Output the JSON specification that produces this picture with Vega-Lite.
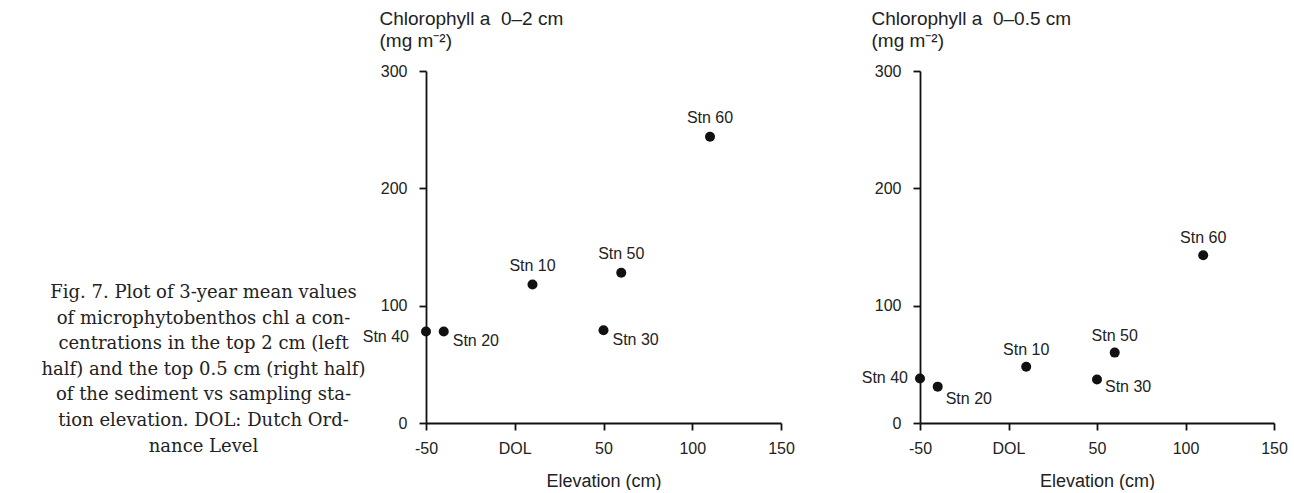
{
  "$schema": "https://vega.github.io/schema/vega-lite/v6.json",
  "padding": {"left": 41, "top": 9, "right": 0, "bottom": 0},
  "background": "white",
  "datasets": {
    "stations": [
      {"depth": "0-2", "station": "Stn 40", "elevation": -50, "chl": 78},
      {"depth": "0-2", "station": "Stn 20", "elevation": -40, "chl": 78},
      {"depth": "0-2", "station": "Stn 10", "elevation": 10, "chl": 118},
      {"depth": "0-2", "station": "Stn 30", "elevation": 50, "chl": 79},
      {"depth": "0-2", "station": "Stn 50", "elevation": 60, "chl": 128},
      {"depth": "0-2", "station": "Stn 60", "elevation": 110, "chl": 244},
      {"depth": "0-0.5", "station": "Stn 40", "elevation": -50, "chl": 38},
      {"depth": "0-0.5", "station": "Stn 20", "elevation": -40, "chl": 31},
      {"depth": "0-0.5", "station": "Stn 10", "elevation": 10, "chl": 48},
      {"depth": "0-0.5", "station": "Stn 30", "elevation": 50, "chl": 37},
      {"depth": "0-0.5", "station": "Stn 50", "elevation": 60, "chl": 60},
      {"depth": "0-0.5", "station": "Stn 60", "elevation": 110, "chl": 143}
    ],
    "caption": [
      {"line": 1, "text": "Fig. 7. Plot of 3-year mean values"},
      {"line": 2, "text": "of microphytobenthos chl a con-"},
      {"line": 3, "text": "centrations in the top 2 cm (left"},
      {"line": 4, "text": "half) and the top 0.5 cm (right half)"},
      {"line": 5, "text": "of the sediment vs sampling sta-"},
      {"line": 6, "text": "tion elevation. DOL: Dutch Ord-"},
      {"line": 7, "text": "nance Level"}
    ]
  },
  "config": {
    "view": {"stroke": null},
    "font": "Liberation Sans",
    "axis": {
      "grid": false,
      "domainColor": "#111",
      "domainWidth": 1.8,
      "tickColor": "#111",
      "tickWidth": 1.8,
      "tickSize": 7,
      "labelColor": "#222",
      "labelFont": "Liberation Sans",
      "labelFontSize": 16,
      "titleFont": "Liberation Sans",
      "titleFontSize": 18,
      "titleFontWeight": "normal",
      "titleColor": "#222"
    },
    "text": {"font": "Liberation Sans", "fontSize": 16, "color": "#222", "baseline": "middle"}
  },
  "spacing": 139,
  "bounds": "flush",
  "hconcat": [
    {
      "width": 167,
      "height": 352,
      "data": {"name": "caption"},
      "mark": {"type": "text", "font": "DejaVu Serif", "fontSize": 18, "color": "#222", "align": "center", "baseline": "middle"},
      "encoding": {
        "y": {"field": "line", "type": "quantitative", "scale": {"domain": [-7.67, 6.08], "reverse": true, "zero": false, "nice": false}, "axis": null},
        "text": {"field": "text"}
      }
    },
    {
      "width": 355,
      "height": 352,
      "data": {"name": "stations"},
      "transform": [{"filter": "datum.depth == '0-2'"}],
      "encoding": {
        "x": {
          "field": "elevation", "type": "quantitative",
          "scale": {"domain": [-50, 150], "nice": false, "zero": false},
          "axis": {"values": [-50, 0, 50, 100, 150], "labelExpr": "datum.value == 0 ? 'DOL' : (datum.value < 0 ? '-' + abs(datum.value) : '' + datum.value)", "labelFlush": false, "labelPadding": 10, "title": "Elevation (cm)", "titlePadding": 16}
        },
        "y": {
          "field": "chl", "type": "quantitative",
          "scale": {"domain": [0, 300], "nice": false},
          "axis": {"values": [0, 100, 200, 300], "labelPadding": 12, "title": ["Chlorophyll a\u00a0 0\u20132 cm", "(mg m\u207b\u00b2)"], "titleAngle": 0, "titleAlign": "left", "titleBaseline": "alphabetic", "titleFontSize": 19, "titleX": -47, "titleY": -47, "titleLineHeight": 22}
        }
      },
      "layer": [
        {"mark": {"type": "point", "filled": true, "shape": "circle", "size": 100, "color": "#111", "opacity": 1}},
        {"transform": [{"filter": "indexof(['Stn 10','Stn 50','Stn 60'], datum.station) >= 0"}], "mark": {"type": "text", "align": "center", "dy": -19}, "encoding": {"text": {"field": "station"}}},
        {"transform": [{"filter": "datum.station == 'Stn 40'"}], "mark": {"type": "text", "align": "right", "dx": -17, "dy": 6}, "encoding": {"text": {"field": "station"}}},
        {"transform": [{"filter": "datum.station == 'Stn 20' || datum.station == 'Stn 30'"}], "mark": {"type": "text", "align": "left", "dx": 9, "dy": 10}, "encoding": {"text": {"field": "station"}}}
      ]
    },
    {
      "width": 354,
      "height": 352,
      "data": {"name": "stations"},
      "transform": [{"filter": "datum.depth == '0-0.5'"}],
      "encoding": {
        "x": {
          "field": "elevation", "type": "quantitative",
          "scale": {"domain": [-50, 150], "nice": false, "zero": false},
          "axis": {"values": [-50, 0, 50, 100, 150], "labelExpr": "datum.value == 0 ? 'DOL' : (datum.value < 0 ? '-' + abs(datum.value) : '' + datum.value)", "labelFlush": false, "labelPadding": 10, "title": "Elevation (cm)", "titlePadding": 16}
        },
        "y": {
          "field": "chl", "type": "quantitative",
          "scale": {"domain": [0, 300], "nice": false},
          "axis": {"values": [0, 100, 200, 300], "labelPadding": 12, "title": ["Chlorophyll a\u00a0 0\u20130.5 cm", "(mg m\u207b\u00b2)"], "titleAngle": 0, "titleAlign": "left", "titleBaseline": "alphabetic", "titleFontSize": 19, "titleX": -49, "titleY": -47, "titleLineHeight": 22}
        }
      },
      "layer": [
        {"mark": {"type": "point", "filled": true, "shape": "circle", "size": 100, "color": "#111", "opacity": 1}},
        {"transform": [{"filter": "indexof(['Stn 10','Stn 50','Stn 60'], datum.station) >= 0"}], "mark": {"type": "text", "align": "center", "dy": -17}, "encoding": {"text": {"field": "station"}}},
        {"transform": [{"filter": "datum.station == 'Stn 40'"}], "mark": {"type": "text", "align": "right", "dx": -12, "dy": 0}, "encoding": {"text": {"field": "station"}}},
        {"transform": [{"filter": "datum.station == 'Stn 20'"}], "mark": {"type": "text", "align": "left", "dx": 8, "dy": 12}, "encoding": {"text": {"field": "station"}}},
        {"transform": [{"filter": "datum.station == 'Stn 30'"}], "mark": {"type": "text", "align": "left", "dx": 8, "dy": 7}, "encoding": {"text": {"field": "station"}}}
      ]
    }
  ]
}
